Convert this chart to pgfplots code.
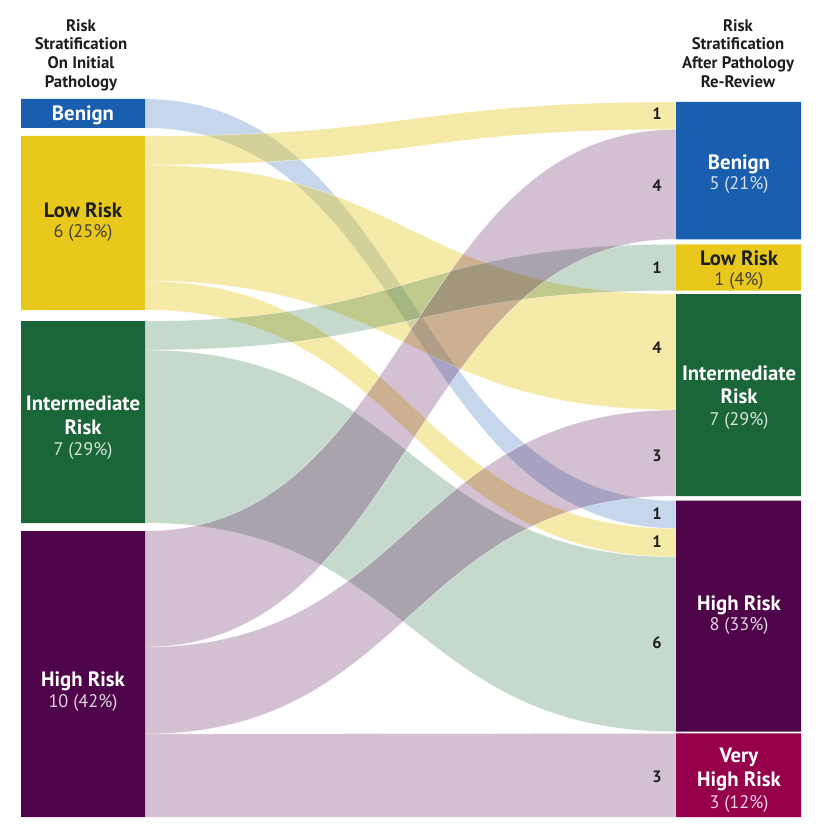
\documentclass[border=0pt]{standalone}
\usepackage{fontspec}
\setmainfont{PT Sans}
\usepackage{pgfplots}
\pgfplotsset{compat=1.18}
\definecolor{cBlue}{RGB}{26,94,175}
\definecolor{cYel}{RGB}{232,200,26}
\definecolor{cGrn}{RGB}{27,102,56}
\definecolor{cPur}{RGB}{78,5,74}
\definecolor{cVH}{RGB}{150,0,74}
\definecolor{cTxt}{RGB}{30,30,30}
\newcommand{\fB}{\fontsize{20.8}{24}\selectfont\bfseries}
\newcommand{\fR}{\fontsize{18.3}{20}\selectfont}
\newcommand{\fH}{\fontsize{16.8}{18.7}\selectfont\bfseries}
\newcommand{\fN}{\fontsize{16.5}{19}\selectfont\bfseries}
% flow: style, left top, left bottom, right top, right bottom
\newcommand{\flow}[5]{%
  \fill[#1, draw=white, draw opacity=0.7, line width=0.4pt]
    (axis cs:145,#2) .. controls (axis cs:410.5,#2) and (axis cs:410.5,#4) .. (axis cs:676,#4)
    -- (axis cs:676,#5) .. controls (axis cs:410.5,#5) and (axis cs:410.5,#3) .. (axis cs:145,#3) -- cycle;}
\newcommand{\lbl}[4]{\node[anchor=base, inner sep=0pt, text=#1, font=#2] at (axis cs:#3) {#4};}
\tikzset{
  fB/.style={fill=cBlue, fill opacity=0.25},
  fY/.style={fill=cYel, fill opacity=0.38},
  fG/.style={fill=cGrn, fill opacity=0.25},
  fP/.style={fill=cPur, fill opacity=0.25},
}
\begin{document}
\begin{tikzpicture}
\begin{axis}[width=822bp, height=826bp, scale only axis,
  xmin=0, xmax=822, ymin=0, ymax=826, y dir=reverse,
  hide axis, clip=false]
% full canvas for the bounding box
\path (axis cs:0,0) rectangle (axis cs:822,826);
% flows (left y-range -> right y-range)
\flow{fB}{99}{128}{500.7}{528.5}
\flow{fY}{136}{165}{102}{129.5}
\flow{fY}{165}{281}{294}{410}
\flow{fY}{281}{310}{528.5}{557}
\flow{fG}{321}{350}{244.3}{290.7}
\flow{fG}{350}{523}{557}{731.7}
\flow{fP}{531}{647}{129.5}{239.3}
\flow{fP}{647}{734}{410}{496}
\flow{fP}{734}{817}{733.3}{817}
% left nodes
\addplot[fill=cBlue, draw=none] coordinates {(21,99) (145,99) (145,128) (21,128) (21,99)};
\addplot[fill=cYel, draw=none] coordinates {(21,136) (145,136) (145,310) (21,310) (21,136)};
\addplot[fill=cGrn, draw=none] coordinates {(21,321) (145,321) (145,523) (21,523) (21,321)};
\addplot[fill=cPur, draw=none] coordinates {(21,531) (145,531) (145,817) (21,817) (21,531)};
% right nodes
\addplot[fill=cBlue, draw=none] coordinates {(676,102) (801,102) (801,239.3) (676,239.3) (676,102)};
\addplot[fill=cYel, draw=none] coordinates {(676,244.3) (801,244.3) (801,290.7) (676,290.7) (676,244.3)};
\addplot[fill=cGrn, draw=none] coordinates {(676,294) (801,294) (801,496) (676,496) (676,294)};
\addplot[fill=cPur, draw=none] coordinates {(676,500.7) (801,500.7) (801,731.7) (676,731.7) (676,500.7)};
\addplot[fill=cVH, draw=none] coordinates {(676,733.3) (801,733.3) (801,817) (676,817) (676,733.3)};
% headers
\lbl{cTxt}{\fH}{81,31.7}{Risk}
\lbl{cTxt}{\fH}{81,50}{Stratification}
\lbl{cTxt}{\fH}{81,69}{On Initial}
\lbl{cTxt}{\fH}{81,87.3}{Pathology}
\lbl{cTxt}{\fH}{738,31.7}{Risk}
\lbl{cTxt}{\fH}{738,50}{Stratification}
\lbl{cTxt}{\fH}{738,69}{After Pathology}
\lbl{cTxt}{\fH}{738,87.3}{Re-Review}
% left labels
\lbl{white}{\fB}{83,120.7}{Benign}
\lbl{cTxt}{\fB}{83,217.3}{Low Risk}
\lbl{black!75}{\fR}{83,237.3}{6 (25\%)}
\lbl{white}{\fB}{83,410}{Intermediate}
\lbl{white}{\fB}{83,434}{Risk}
\lbl{white!82!cGrn}{\fR}{83,455}{7 (29\%)}
\lbl{white}{\fB}{83,686.7}{High Risk}
\lbl{white!82!cPur}{\fR}{83,707.3}{10 (42\%)}
% right labels
\lbl{white}{\fB}{739,170}{Benign}
\lbl{white!82!cBlue}{\fR}{739,190}{5 (21\%)}
\lbl{cTxt}{\fB}{739,265}{Low Risk}
\lbl{black!75}{\fR}{739,285.7}{1 (4\%)}
\lbl{white}{\fB}{739,380}{Intermediate}
\lbl{white}{\fB}{739,403.3}{Risk}
\lbl{white!82!cGrn}{\fR}{739,425}{7 (29\%)}
\lbl{white}{\fB}{739,610.7}{High Risk}
\lbl{white!82!cPur}{\fR}{739,630.7}{8 (33\%)}
\lbl{white}{\fB}{739,762.3}{Very}
\lbl{white}{\fB}{739,786.7}{High Risk}
\lbl{white!82!cVH}{\fR}{739,808.3}{3 (12\%)}
% flow counts
\node[anchor=base east, inner sep=0pt, text=cTxt, font=\fN] at (axis cs:662,119.3) {1};
\node[anchor=base east, inner sep=0pt, text=cTxt, font=\fN] at (axis cs:662,191.7) {4};
\node[anchor=base east, inner sep=0pt, text=cTxt, font=\fN] at (axis cs:662,273.3) {1};
\node[anchor=base east, inner sep=0pt, text=cTxt, font=\fN] at (axis cs:662,353.3) {4};
\node[anchor=base east, inner sep=0pt, text=cTxt, font=\fN] at (axis cs:662,461.7) {3};
\node[anchor=base east, inner sep=0pt, text=cTxt, font=\fN] at (axis cs:662,519.3) {1};
\node[anchor=base east, inner sep=0pt, text=cTxt, font=\fN] at (axis cs:662,547.7) {1};
\node[anchor=base east, inner sep=0pt, text=cTxt, font=\fN] at (axis cs:662,648.3) {6};
\node[anchor=base east, inner sep=0pt, text=cTxt, font=\fN] at (axis cs:662,782.7) {3};
\end{axis}
\end{tikzpicture}
\end{document}
